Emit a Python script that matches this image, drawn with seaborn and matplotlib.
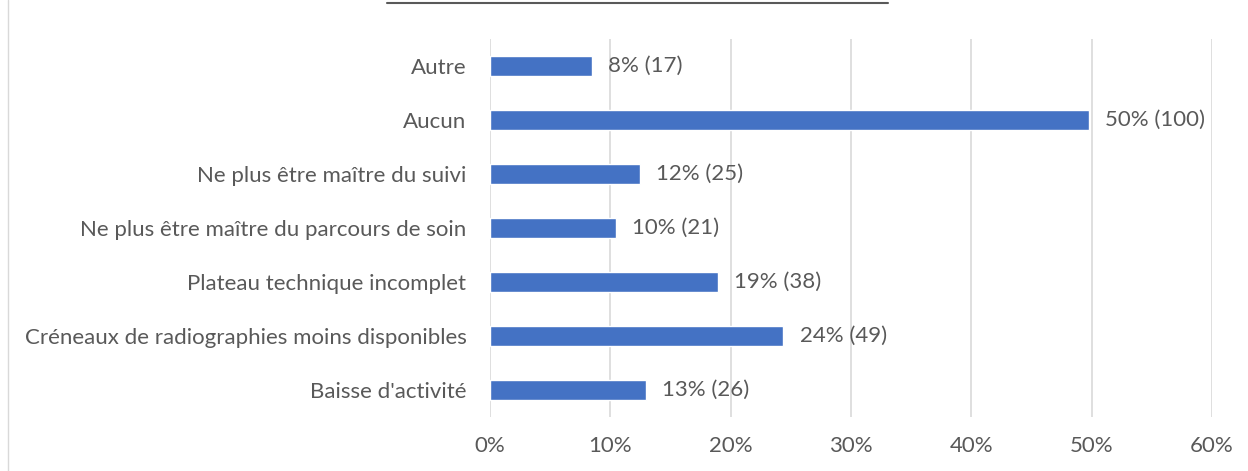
import matplotlib
matplotlib.use("Agg")
import matplotlib.pyplot as plt
import seaborn as sns
import pandas as pd
from matplotlib.lines import Line2D

categories = ["Autre", "Aucun", "Ne plus être maître du suivi",
              "Ne plus être maître du parcours de soin",
              "Plateau technique incomplet",
              "Créneaux de radiographies moins disponibles",
              "Baisse d'activité"]
percents = [8.46, 49.75, 12.44, 10.45, 18.91, 24.38, 12.94]
counts = [17, 100, 25, 21, 38, 49, 26]
xticks = [0, 10, 20, 30, 40, 50, 60]

df = pd.DataFrame({"cat": categories, "pct": percents})

sns.set_style("white")
plt.rcParams['font.family'] = ['Lato', 'DejaVu Sans']

text_col = "#595959"
fig = plt.figure(figsize=(12.48, 4.71), dpi=100)
ax = fig.add_axes([490/1248, 1-417/471, 722/1248, 378/471])

sns.barplot(data=df, x="pct", y="cat", orient="h", color="#4472C4",
            saturation=1, width=0.37, ax=ax, zorder=3)

labels = [f"{round(p)}% ({c})" for p, c in zip(percents, counts)]
ax.bar_label(ax.containers[0], labels=labels, padding=12,
             fontsize=16, color=text_col)

ax.set_xlim(0, 60)
ax.set_ylim(6.5, -0.5)
ax.set_xticks(xticks)
ax.set_xticklabels([f"{t}%" for t in xticks])
ax.grid(axis="x", color="#D9D9D9", linewidth=1.2, zorder=0)
ax.set_axisbelow(True)
for s in ax.spines.values():
    s.set_visible(False)
ax.tick_params(axis="x", length=0, pad=14, labelsize=16, labelcolor=text_col)
ax.tick_params(axis="y", length=0, pad=17, labelsize=16, labelcolor=text_col)
ax.set_xlabel("")
ax.set_ylabel("")

# chart border and cut-off title underline
fig.add_artist(Line2D([8/1248, 8/1248], [0, 1], color="#D9D9D9", linewidth=1))
fig.add_artist(Line2D([387/1248, 888/1248], [1-3/471, 1-3/471],
                      color="#595959", linewidth=1.5))

fig.savefig("out.png", dpi=100)
